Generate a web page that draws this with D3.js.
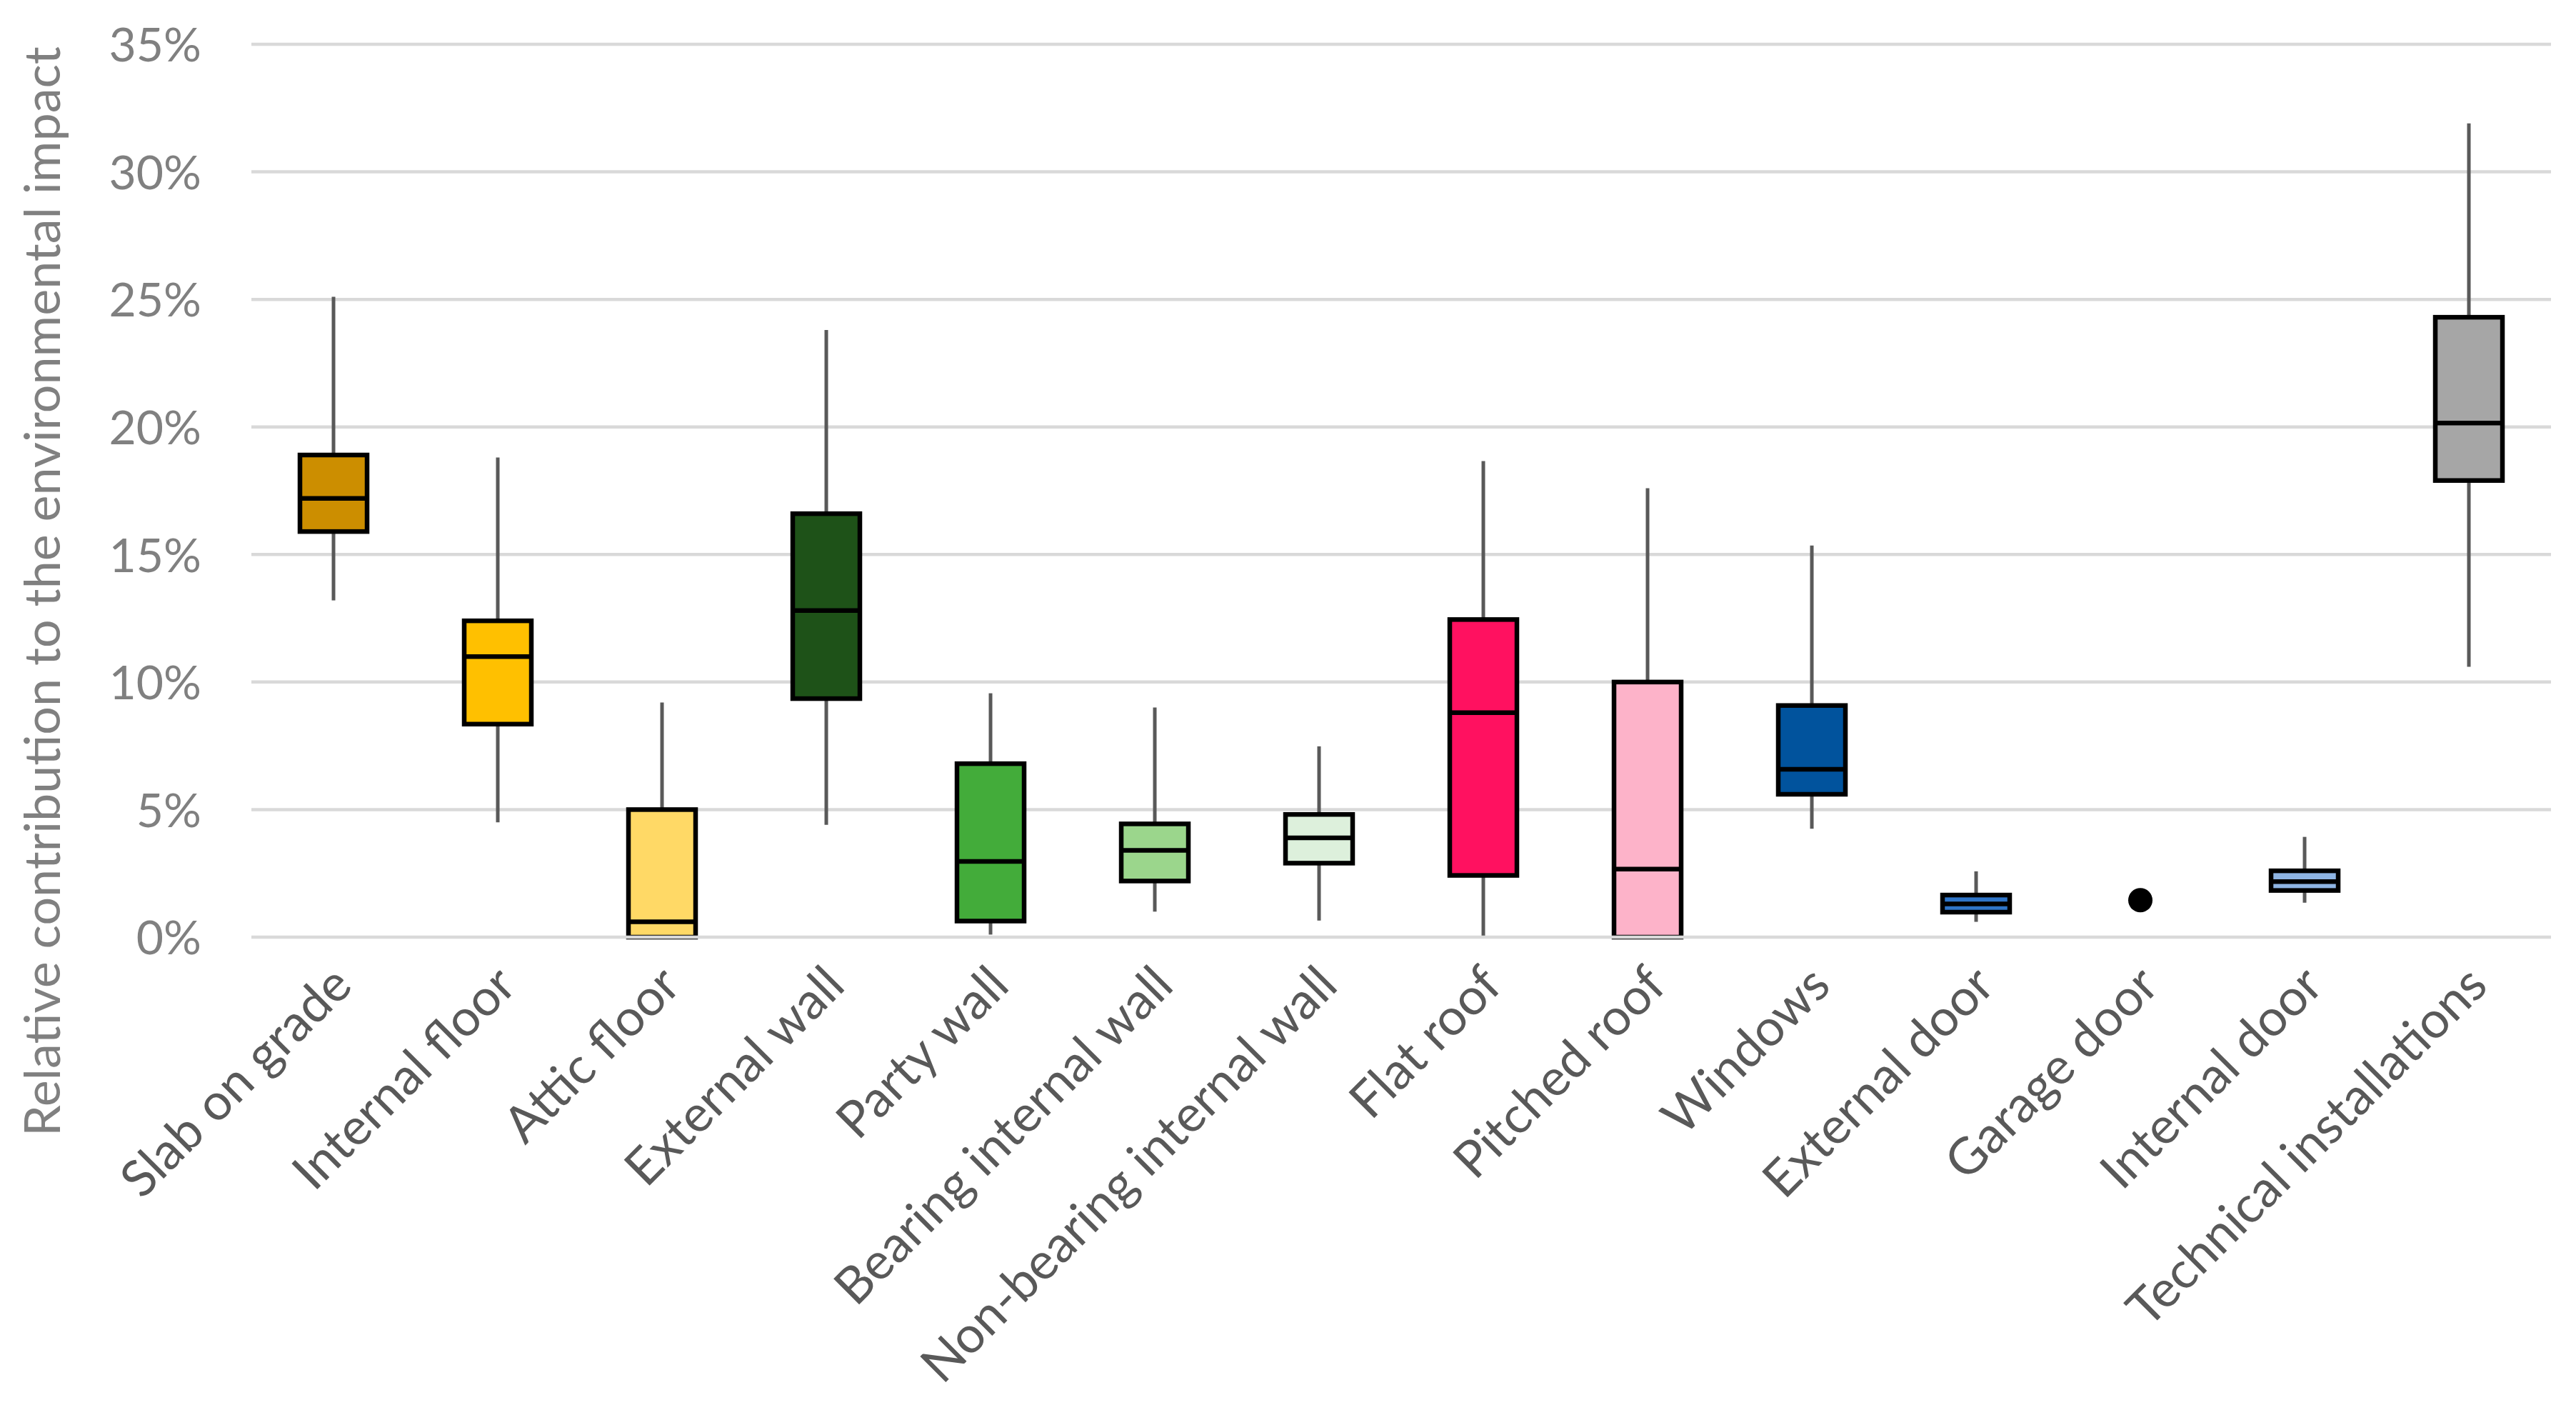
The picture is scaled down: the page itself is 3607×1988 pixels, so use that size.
<!DOCTYPE html>
<html>
<head>
<meta charset="utf-8">
<script src="https://cdn.jsdelivr.net/npm/d3@7"></script>
<style>
  html, body { margin: 0; padding: 0; background: #fff; }
  text { font-family: Lato, "Liberation Sans", sans-serif; }
</style>
</head>
<body>
<div id="chart"></div>
<script>
// Building elements and their relative contribution (%) as box plot statistics
const categories = ["Slab on grade", "Internal floor", "Attic floor", "External wall", "Party wall",
  "Bearing internal wall", "Non-bearing internal wall", "Flat roof", "Pitched roof", "Windows",
  "External door", "Garage door", "Internal door", "Technical installations"];
const whiskerLow  = [13.2, 4.5, 0,   4.4, 0.1, 1.0, 0.65, 0.05, 0,    4.25, 0.6,  null, 1.35, 10.6];
const q1          = [15.9, 8.35, 0,  9.35, 0.63, 2.2, 2.9, 2.42, 0,    5.6,  0.98, null, 1.83, 17.9];
const median      = [17.2, 11.0, 0.6, 12.8, 2.97, 3.4, 3.89, 8.8, 2.67, 6.58, 1.3,  null, 2.18, 20.15];
const q3          = [18.9, 12.4, 5.0, 16.6, 6.8, 4.44, 4.81, 12.45, 10.0, 9.08, 1.65, null, 2.6, 24.3];
const whiskerHigh = [25.1, 18.8, 9.2, 23.8, 9.56, 9.0, 7.48, 18.66, 17.6, 15.35, 2.58, null, 3.93, 31.9];
const singleValue = [null, null, null, null, null, null, null, null, null, null, null, 1.45, null, null];
const colors = ["#CC8E00", "#FFC000", "#FFD966", "#1E5218", "#43AC3A", "#9BD68C", "#DDF0DC",
  "#FF1160", "#FDB3C9", "#01539D", "#2F75C8", "#000000", "#8EB4E3", "#A6A6A6"];
const yTicks = [0, 5, 10, 15, 20, 25, 30, 35];

const width = 3607;
const height = 1988;

const svg = d3.select("#chart")
  .append("svg")
  .attr("width", width)
  .attr("height", height)
  .attr("viewBox", `0 0 ${width} ${height}`);

const x = d3.scaleBand().domain(categories).range([352, 3572]);
const y = d3.scaleLinear().domain([0, 35]).range([1312, 62]);
const boxW = 94;

// gridlines
svg.append("g")
  .selectAll("line")
  .data(yTicks.filter(d => d > 0))
  .enter()
  .append("line")
  .attr("x1", 352).attr("x2", 3572)
  .attr("y1", d => y(d)).attr("y2", d => y(d))
  .style("stroke", "#D9D9D9")
  .style("stroke-width", 4.5);

// y axis labels
const yAxis = svg.append("g")
  .attr("transform", "translate(352,0)")
  .call(d3.axisLeft(y).tickValues(yTicks).tickSize(0).tickPadding(70).tickFormat(d => d + "%"));
yAxis.select(".domain").remove();
yAxis.selectAll("text")
  .style("font-size", "66px")
  .style("fill", "#808080")
  .attr("dy", "0.36em");

// y axis title
svg.append("text")
  .attr("transform", "translate(84,828) rotate(-90)")
  .attr("text-anchor", "middle")
  .text("Relative contribution to the environmental impact")
  .style("font-size", "70px")
  .style("fill", "#808080");

const boxes = categories.map((c, i) => ({
  cat: c, lo: whiskerLow[i], q1: q1[i], med: median[i], q3: q3[i], hi: whiskerHigh[i],
  single: singleValue[i], color: colors[i]
}));
const cx = d => x(d.cat) + x.bandwidth() / 2;

const g = svg.append("g");
const withBox = boxes.filter(d => d.single === null);

// whiskers
g.selectAll(".whi")
  .data(withBox)
  .enter()
  .append("line")
  .attr("x1", cx).attr("x2", cx)
  .attr("y1", d => y(d.q3)).attr("y2", d => y(d.hi))
  .style("stroke", "#595959")
  .style("stroke-width", 5);
g.selectAll(".wlo")
  .data(withBox)
  .enter()
  .append("line")
  .attr("x1", cx).attr("x2", cx)
  .attr("y1", d => y(d.q1)).attr("y2", d => y(d.lo))
  .style("stroke", "#595959")
  .style("stroke-width", 5);

// boxes
g.selectAll("rect")
  .data(withBox)
  .enter()
  .append("rect")
  .attr("x", d => cx(d) - boxW / 2)
  .attr("width", boxW)
  .attr("y", d => y(d.q3))
  .attr("height", d => y(d.q1) - y(d.q3))
  .style("fill", d => d.color)
  .style("stroke", "#000")
  .style("stroke-width", 6.5);

// medians
g.selectAll(".med")
  .data(withBox)
  .enter()
  .append("line")
  .attr("x1", d => cx(d) - boxW / 2).attr("x2", d => cx(d) + boxW / 2)
  .attr("y1", d => y(d.med)).attr("y2", d => y(d.med))
  .style("stroke", "#000")
  .style("stroke-width", 6.5);

// single value marker
g.selectAll("circle")
  .data(boxes.filter(d => d.single !== null))
  .enter()
  .append("circle")
  .attr("cx", cx)
  .attr("cy", d => y(d.single))
  .attr("r", 17)
  .style("fill", "#000");

// baseline drawn above the boxes
svg.append("line")
  .attr("x1", 352).attr("x2", 3572)
  .attr("y1", y(0)).attr("y2", y(0))
  .style("stroke", "#D9D9D9")
  .style("stroke-width", 4.5);

// x axis labels
const xAxis = svg.append("g")
  .attr("transform", `translate(0,${y(0)})`)
  .call(d3.axisBottom(x).tickSize(0).tickPadding(0));
xAxis.select(".domain").remove();
xAxis.selectAll("text")
  .style("font-size", "71px")
  .style("fill", "#595959")
  .attr("text-anchor", "end")
  .attr("dy", "0.7em")
  .attr("transform", "translate(-6,36) rotate(-45)");
</script>
</body>
</html>
